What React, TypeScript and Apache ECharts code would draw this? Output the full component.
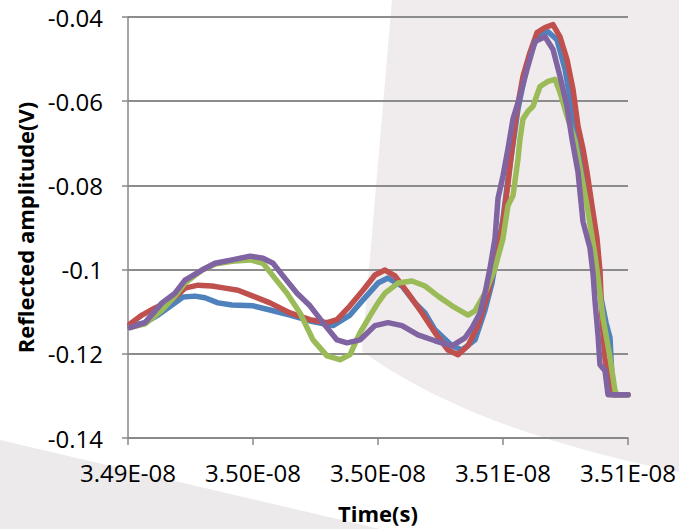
import React, { useEffect, useRef } from "react";
import * as echarts from "echarts";

// Time in picoseconds (1 ps = 1e-12 s), amplitude in volts
const blueTime = [34900.8, 34906.8, 34912.0, 34917.6, 34922.0, 34926.8, 34930.8, 34936.0, 34941.6, 34950.0, 34956.8, 34964.8, 34972.8, 34982.0, 34988.8, 34994.0, 35000.0, 35004.0, 35009.6, 35014.8, 35018.8, 35022.8, 35029.6, 35033.6, 35038.8, 35042.8, 35045.6, 35047.6, 35050.0, 35052.0, 35054.0, 35056.0, 35058.4, 35060.8, 35063.6, 35068.0, 35071.6, 35074.8, 35077.6, 35080.0, 35082.8, 35085.2, 35087.6, 35089.2, 35091.2, 35092.8, 35093.6, 35094.4, 35100.0];
const blueAmp = [-0.1133, -0.1126, -0.1108, -0.1084, -0.1065, -0.1063, -0.1067, -0.1079, -0.1084, -0.1086, -0.1096, -0.1108, -0.1122, -0.1133, -0.1108, -0.1072, -0.1032, -0.1020, -0.1039, -0.1079, -0.1103, -0.1143, -0.1181, -0.1191, -0.1167, -0.1096, -0.1032, -0.0961, -0.0879, -0.0784, -0.0702, -0.0619, -0.0548, -0.0489, -0.0449, -0.0435, -0.0454, -0.0524, -0.0619, -0.0702, -0.0796, -0.0890, -0.0997, -0.1067, -0.1126, -0.1162, -0.1256, -0.1297, -0.1297];

const redTime = [34900.8, 34905.6, 34910.8, 34917.6, 34922.8, 34928.0, 34933.6, 34938.8, 34944.0, 34950.0, 34956.8, 34964.8, 34972.8, 34979.6, 34983.6, 34988.8, 34994.0, 34998.8, 35002.8, 35006.8, 35012.0, 35017.6, 35022.8, 35028.0, 35032.0, 35036.0, 35040.0, 35044.0, 35047.6, 35050.0, 35052.0, 35053.6, 35055.6, 35058.0, 35060.8, 35063.6, 35066.8, 35070.0, 35072.8, 35075.6, 35078.0, 35080.0, 35082.0, 35083.6, 35085.6, 35087.6, 35088.8, 35089.6, 35090.8, 35092.8, 35093.6, 35100.0];
const redAmp = [-0.1129, -0.1108, -0.1091, -0.1072, -0.1044, -0.1037, -0.1039, -0.1044, -0.1049, -0.1063, -0.1079, -0.1103, -0.1119, -0.1126, -0.1119, -0.1086, -0.1049, -0.1013, -0.1001, -0.1015, -0.1056, -0.1103, -0.1150, -0.1191, -0.1202, -0.1181, -0.1133, -0.1056, -0.0966, -0.0886, -0.0796, -0.0713, -0.0619, -0.0541, -0.0484, -0.0437, -0.0425, -0.0418, -0.0447, -0.0501, -0.0572, -0.0659, -0.0713, -0.0768, -0.0848, -0.0926, -0.1004, -0.1122, -0.1209, -0.1287, -0.1297, -0.1297];

const greenTime = [34900.8, 34906.8, 34913.6, 34918.8, 34922.8, 34929.6, 34934.8, 34941.6, 34948.8, 34954.0, 34958.0, 34963.6, 34968.8, 34974.0, 34979.6, 34984.8, 34988.8, 34992.8, 34996.8, 35000.0, 35002.8, 35008.0, 35013.6, 35018.8, 35024.0, 35029.6, 35036.0, 35038.8, 35042.8, 35046.8, 35050.0, 35052.0, 35054.0, 35056.0, 35056.8, 35058.0, 35060.0, 35062.0, 35064.8, 35068.0, 35070.8, 35072.8, 35075.6, 35078.8, 35083.6, 35086.8, 35088.0, 35090.0, 35092.8, 35094.8, 35095.6, 35100.0];
const greenAmp = [-0.1138, -0.1129, -0.1096, -0.1063, -0.1032, -0.1001, -0.0987, -0.0980, -0.0977, -0.0985, -0.1015, -0.1056, -0.1103, -0.1167, -0.1205, -0.1214, -0.1202, -0.1150, -0.1110, -0.1079, -0.1056, -0.1032, -0.1027, -0.1039, -0.1063, -0.1086, -0.1108, -0.1098, -0.1056, -0.0997, -0.0926, -0.0848, -0.0824, -0.0737, -0.0690, -0.0642, -0.0624, -0.0612, -0.0565, -0.0553, -0.0548, -0.0579, -0.0635, -0.0694, -0.0848, -0.0966, -0.1020, -0.1115, -0.1209, -0.1287, -0.1297, -0.1297];

const purpleTime = [34900.8, 34906.8, 34913.6, 34918.8, 34922.8, 34929.6, 34934.8, 34941.6, 34948.8, 34954.0, 34958.0, 34962.0, 34967.6, 34972.8, 34978.0, 34983.6, 34987.6, 34992.8, 34998.8, 35004.0, 35009.6, 35016.0, 35022.8, 35029.6, 35034.8, 35037.6, 35040.8, 35042.8, 35044.8, 35046.8, 35048.0, 35050.0, 35052.0, 35054.0, 35056.8, 35059.6, 35062.8, 35066.8, 35070.0, 35072.8, 35075.6, 35077.6, 35080.0, 35082.0, 35084.8, 35086.0, 35086.8, 35088.0, 35088.8, 35090.8, 35092.0, 35100.0];
const purpleAmp = [-0.1138, -0.1126, -0.1079, -0.1056, -0.1025, -0.1001, -0.0985, -0.0977, -0.0968, -0.0973, -0.0985, -0.1015, -0.1056, -0.1086, -0.1126, -0.1167, -0.1174, -0.1167, -0.1133, -0.1126, -0.1133, -0.1155, -0.1169, -0.1181, -0.1162, -0.1138, -0.1103, -0.1056, -0.0997, -0.0926, -0.0831, -0.0777, -0.0713, -0.0642, -0.0588, -0.0524, -0.0458, -0.0447, -0.0477, -0.0541, -0.0612, -0.0690, -0.0768, -0.0886, -0.0949, -0.1009, -0.1075, -0.1155, -0.1226, -0.1240, -0.1297, -0.1297];

const seriesNames = ["Series1", "Series2", "Series3", "Series4"];
const seriesColors = ["#4F81BD", "#C0504D", "#9BBB59", "#8064A2"];

const xMin = 34900;
const xMax = 35100;
const xStep = 50;
const yMin = -0.14;
const yMax = -0.04;
const yStep = 0.02;

const xTitle = "Time(s)";
const yTitle = "Reflected amplitude(V)";

function pairs(t: number[], v: number[]) {
  return t.map((x, i) => [x, v[i]]);
}

function curvePoints(p0: number[], c: number[], p1: number[], n: number) {
  const out: number[][] = [];
  for (let i = 0; i <= n; i++) {
    const s = i / n;
    const a = (1 - s) * (1 - s), b = 2 * (1 - s) * s, d = s * s;
    out.push([a * p0[0] + b * c[0] + d * p1[0], a * p0[1] + b * c[1] + d * p1[1]]);
  }
  return out;
}

export default function App() {
  const ref = useRef<HTMLDivElement>(null);
  useEffect(() => {
    if (!ref.current) return;
    const chart = echarts.init(ref.current, undefined, { renderer: "svg" });
    const lines = [
      pairs(blueTime, blueAmp),
      pairs(redTime, redAmp),
      pairs(greenTime, greenAmp),
      pairs(purpleTime, purpleAmp),
    ];
    // background decoration: pink region with white sweeping arc
    const arc = curvePoints([679, 472], [470, 430], [362, 351], 24);
    const pinkPoly = [[392, 0], [679, 0], ...arc, [392, 0]];
    const greyWedge = [[0, 440], [380, 529], [0, 529]];
    chart.setOption({
      animation: false,
      backgroundColor: "#ffffff",
      graphic: [
        { type: "polygon", z: -10, silent: true, shape: { points: pinkPoly }, style: { fill: "#f0ebec" } },
        { type: "polygon", z: -10, silent: true, shape: { points: greyWedge }, style: { fill: "#edeaeb" } },
      ],
      grid: { left: 128, right: 51, top: 17, bottom: 88, containLabel: false },
      xAxis: {
        type: "value",
        min: xMin,
        max: xMax,
        interval: xStep,
        name: xTitle,
        nameLocation: "middle",
        nameGap: 64,
        nameTextStyle: { fontFamily: "Open Sans", fontWeight: "bold", fontSize: 22, color: "#000" },
        axisLine: { show: true, lineStyle: { color: "#888888", width: 1.5 } },
        axisTick: { show: true, inside: false, length: 7, lineStyle: { color: "#888888", width: 1.5 } },
        axisLabel: {
          margin: 22,
          fontFamily: "Open Sans",
          fontSize: 24,
          color: "#000",
          formatter: (v: number) => (Math.round(v / 100) / 100).toFixed(2) + "E-08",
        },
        splitLine: { show: false },
      },
      yAxis: {
        type: "value",
        min: yMin,
        max: yMax,
        interval: yStep,
        name: yTitle,
        nameLocation: "middle",
        nameGap: 92,
        nameTextStyle: { fontFamily: "Open Sans", fontWeight: "bold", fontSize: 22, color: "#000" },
        axisLine: { show: true, lineStyle: { color: "#888888", width: 1.5 } },
        axisTick: { show: true, inside: false, length: 6, lineStyle: { color: "#888888", width: 1.5 } },
        axisLabel: {
          margin: 25,
          fontFamily: "Open Sans",
          fontSize: 24,
          color: "#000",
          formatter: (v: number) => String(parseFloat(v.toFixed(2))),
        },
        splitLine: { show: true, lineStyle: { color: "#8c8c8c", width: 1.8 } },
      },
      series: lines.map((d, i) => ({
        name: seriesNames[i],
        type: "line",
        data: d,
        showSymbol: false,
        symbol: "none",
        lineStyle: { color: seriesColors[i], width: 5.5, join: "round", cap: "round" },
        itemStyle: { color: seriesColors[i] },
        z: 2 + i,
      })),
    });
    return () => chart.dispose();
  }, []);
  return <div ref={ref} style={{ position: "fixed", left: 0, top: 0, width: 679, height: 529 }} />;
}
